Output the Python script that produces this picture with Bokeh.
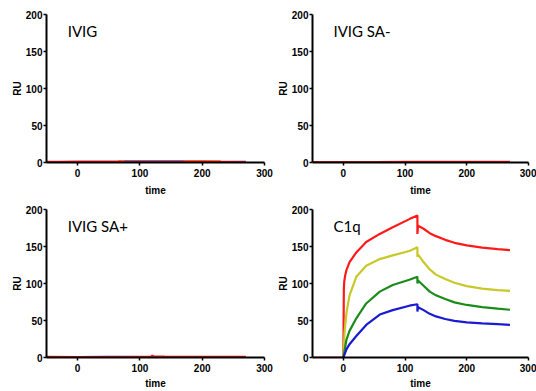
from bokeh.plotting import figure
from bokeh.layouts import column, row
from bokeh.models import Label, FixedTicker, Range1d
from bokeh.embed import file_html
from bokeh.resources import INLINE

# ---------------- data ----------------
titles = ["IVIG", "IVIG SA-", "IVIG SA+", "C1q"]
x_ticks = [0, 100, 200, 300]
y_ticks = [0, 50, 100, 150, 200]

# near-zero traces (IVIG)
ivig_t = [-50, -30, 0, 75, 120, 170, 200, 230, 270]
ivig_blue = [0.3, 0.3, 0.3, 0.3, 0.3, 0.3, 0.3, 0.5, 0.6]
ivig_red = [0.8, 0.6, 0.9, 1.0, 1.0, 0.9, 0.9, 0.7, 0.2]
ivig_purple_t = [75, 120, 170]
ivig_purple = [1.6, 1.7, 1.6]
ivig_orange_t = [65, 78, 170, 200, 230]
ivig_orange = [1.2, 1.0, 1.3, 1.5, 1.4]

# near-zero traces (IVIG SA-)
sam_t = [-50, 0, 50, 100, 150, 200, 270]
sam_purple = [0.4, 0.3, 0.4, 0.4, 0.3, 0.3, 0.3]
sam_red = [0.2, 0.5, 0.3, 0.8, 0.8, 0.8, 0.8]

# near-zero traces (IVIG SA+)
sap_t = [-50, 0, 50, 100, 118, 120, 122, 140, 200, 270]
sap_blue = [0.3, 0.5, 0.6, 0.5, 0.5, 0.5, 0.5, 0.5, 0.4, 0.4]
sap_red = [0.6, 0.4, 0.2, 0.8, 1.0, 2.2, 1.2, 1.0, 0.7, 0.6]

# C1q sensorgrams
c1q_base_t = [-50, 0]
c1q_base = [0, 0]
red_t = [0, 0.8, 1.5, 3, 5, 10, 21, 37, 59, 80, 107, 120, 120, 121, 130, 140, 150, 165, 180, 200, 225, 250, 270]
red_v = [0, 92, 103, 111, 118, 129, 142, 156, 167, 176, 187, 192, 167, 178, 174, 168, 164, 159, 155, 151.5, 148.5, 146.5, 145]
yel_t = [0, 2, 5, 10, 21, 37, 59, 80, 107, 120, 120, 121, 130, 140, 150, 165, 180, 200, 225, 250, 270]
yel_v = [0, 35, 60, 84, 109, 124, 133, 138, 144, 149, 136, 139, 129, 119, 112, 106, 101, 96.5, 93, 91, 90]
grn_t = [0, 5, 10, 21, 37, 59, 80, 107, 120, 120, 121, 130, 140, 150, 165, 180, 200, 225, 250, 270]
grn_v = [0, 24, 36, 53, 73, 89, 98, 105, 109, 100, 104, 97, 89, 84, 79, 74.5, 71, 68, 66, 64.5]
blu_t = [0, 5, 10, 21, 37, 59, 80, 107, 120, 120, 121, 130, 140, 150, 165, 180, 200, 225, 250, 270]
blu_v = [0, 11, 18, 29, 44, 58, 64, 70, 72, 62, 68, 64, 59, 55.5, 52, 49.5, 47.5, 46, 45, 44]

RED = "#ff1a1a"
YEL = "#c8c828"
GRN = "#1a8c1a"
BLU = "#1a1ad2"
PUR = "#7a3c8c"
ORA = "#e08a1e"

AX_FONT = "Liberation Sans"


def make_fig(title, width, height, b_left, b_right, b_top, b_bottom, x_lab_standoff):
    p = figure(width=width, height=height, output_backend="svg", toolbar_location=None,
               x_range=Range1d(-50, 300), y_range=Range1d(0, 200),
               min_border_left=b_left, min_border_right=b_right,
               min_border_top=b_top, min_border_bottom=b_bottom)
    p.outline_line_color = None
    p.grid.visible = False
    p.background_fill_color = "white"
    p.border_fill_color = "white"
    p.xaxis.ticker = FixedTicker(ticks=x_ticks)
    p.yaxis.ticker = FixedTicker(ticks=y_ticks)
    p.xaxis.axis_label = "time"
    p.yaxis.axis_label = "RU"
    for ax in (p.xaxis, p.yaxis):
        ax.axis_line_width = 2
        ax.axis_line_color = "black"
        ax.major_tick_line_width = 1.5
        ax.major_tick_in = 0
        ax.major_tick_out = 3
        ax.minor_tick_line_color = None
        ax.major_label_text_font = AX_FONT
        ax.major_label_text_font_style = "bold"
        ax.major_label_text_font_size = "10px"
        ax.major_label_text_color = "black"
        ax.axis_label_text_font = AX_FONT
        ax.axis_label_text_font_style = "bold"
        ax.axis_label_text_font_size = "10px"
        ax.axis_label_text_color = "black"
    p.yaxis.major_label_standoff = 1
    p.yaxis.axis_label_standoff = 0
    p.xaxis.major_label_standoff = 3
    p.xaxis.axis_label_standoff = x_lab_standoff
    p.add_layout(Label(x=-16, y=178, text=title, text_font="Lato", text_font_size="15px",
                       text_baseline="middle", text_color="black"))
    return p


# left column: frame x 46..264 ; right column: frame x 312..528
p1 = make_fig(titles[0], 273, 198, 46, 9, 14, 36, 5)
p1.line(ivig_t, ivig_blue, line_color=BLU, line_width=2.5)
p1.line(ivig_orange_t, ivig_orange, line_color=ORA, line_width=2.5)
p1.line(ivig_t, ivig_red, line_color=RED, line_width=2.5)
p1.line(ivig_purple_t, ivig_purple, line_color=PUR, line_width=1.5)

p2 = make_fig(titles[1], 263, 198, 39, 8, 14, 36, 5)
p2.line(sam_t, sam_purple, line_color=PUR, line_width=2)
p2.line(sam_t, sam_red, line_color=RED, line_width=2.5)

p3 = make_fig(titles[2], 273, 193, 46, 9, 11, 33, 3)
p3.line(sap_t, sap_blue, line_color=BLU, line_width=2.5)
p3.line(sap_t, sap_red, line_color=RED, line_width=2.5)

p4 = make_fig(titles[3], 263, 193, 39, 8, 11, 33, 3)
p4.line(c1q_base_t, c1q_base, line_color="#ff6060", line_width=2)
p4.line(red_t, red_v, line_color=RED, line_width=2.2)
p4.line(yel_t, yel_v, line_color=YEL, line_width=2.2)
p4.line(grn_t, grn_v, line_color=GRN, line_width=2.2)
p4.line(blu_t, blu_v, line_color=BLU, line_width=2.2)

layout = column(row(p1, p2), row(p3, p4))
open("out.html", "w").write(file_html(layout, INLINE))
